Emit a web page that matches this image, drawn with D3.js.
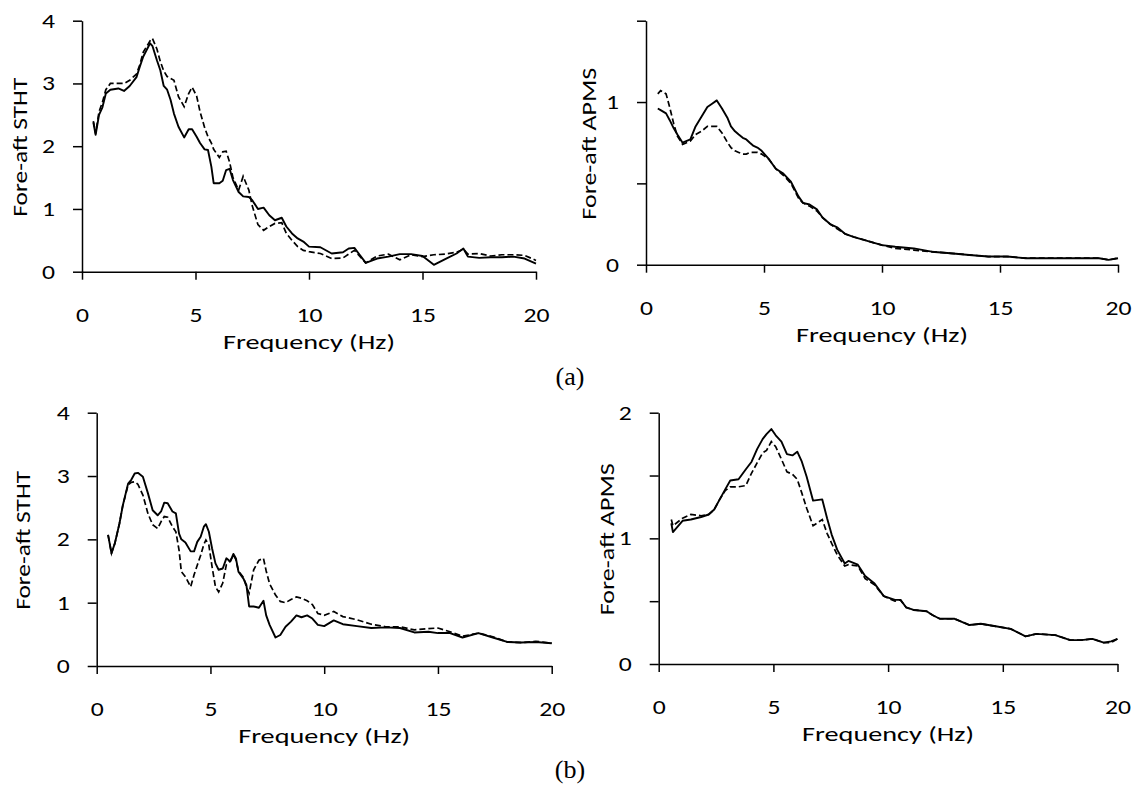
<!DOCTYPE html>
<html>
<head>
<meta charset="utf-8">
<script src="https://cdn.jsdelivr.net/npm/d3@7"></script>
<style>
  body { margin: 0; background: #fff; }
  svg { display: block; }
  .axis path, .axis line { stroke: #000; stroke-width: 1.5; }
</style>
</head>
<body>
<div id="chart"></div>
<script>
const width = 1144;
const height = 787;
const sansFont = "Calibri, Carlito, Lato, sans-serif";
const serifFont = "'Times New Roman', 'Liberation Serif', serif";

// (a) top-left: fore-aft STHT
const freqA = [0.5, 0.6, 0.75, 0.9, 1.05, 1.25, 1.6, 1.85, 2.1, 2.4, 2.55, 2.7, 3.0, 3.1, 3.3, 3.45, 3.6, 3.75, 3.9, 4.05,
    4.25, 4.5, 4.7, 4.85, 5.05, 5.2, 5.4, 5.55, 5.7, 5.8, 6.05, 6.2, 6.35, 6.5, 6.65, 6.9, 7.1, 7.35, 7.5, 7.75,
    8, 8.25, 8.5, 8.8, 9, 9.25, 9.5, 9.75, 10, 10.5, 11, 11.5, 11.75, 12, 12.5, 13, 13.5, 14, 14.5, 15,
    15.5, 16, 16.5, 16.8, 17, 17.5, 18, 18.5, 19, 19.5, 20];
const sthtASolid = [2.38, 2.18, 2.5, 2.62, 2.84, 2.9, 2.92, 2.88, 2.96, 3.1, 3.27, 3.43, 3.64, 3.6, 3.37, 3.21, 2.96, 2.9, 2.74, 2.52,
    2.31, 2.14, 2.27, 2.27, 2.15, 2.05, 1.95, 1.94, 1.67, 1.41, 1.41, 1.45, 1.62, 1.64, 1.46, 1.27, 1.2, 1.19, 1.14, 1.0,
    1.02, 0.9, 0.82, 0.86, 0.72, 0.61, 0.53, 0.48, 0.40, 0.39, 0.29, 0.31, 0.37, 0.38, 0.14, 0.21, 0.24, 0.28, 0.28, 0.25,
    0.11, 0.2, 0.29, 0.37, 0.24, 0.22, 0.23, 0.23, 0.24, 0.21, 0.13];
const sthtADashed = [2.4, 2.2, 2.55, 2.7, 2.9, 3.0, 3.0, 3.0, 3.05, 3.15, 3.3, 3.5, 3.68, 3.72, 3.55, 3.35, 3.2, 3.11, 3.08, 3.05,
    2.79, 2.63, 2.84, 2.94, 2.8, 2.55, 2.3, 2.15, 2.05, 1.95, 1.82, 1.91, 1.92, 1.75, 1.5, 1.3, 1.52, 1.3, 1.05, 0.75,
    0.66, 0.72, 0.77, 0.78, 0.61, 0.5, 0.4, 0.34, 0.32, 0.29, 0.21, 0.22, 0.28, 0.34, 0.14, 0.25, 0.28, 0.19, 0.27, 0.24,
    0.27, 0.28, 0.31, 0.36, 0.28, 0.29, 0.25, 0.27, 0.27, 0.26, 0.18];

// (a) top-right: fore-aft APMS
const freqB = [0.5, 0.62, 0.85, 1.0, 1.17, 1.33, 1.55, 1.88, 2.1, 2.35, 2.6, 2.8, 3.0, 3.22, 3.46, 3.6, 3.77, 3.93, 4.1, 4.25,
    4.4, 4.56, 4.72, 4.9, 5.2, 5.5, 5.82, 6.14, 6.46, 6.65, 6.93, 7.24, 7.48, 7.8, 8.1, 8.43, 8.82, 9.3, 10, 10.56,
    11.35, 12.1, 12.9, 13.7, 14.5, 15.3, 16.1, 16.9, 17.7, 18.45, 19.2, 19.6, 20];
const apmsASolid = [0.96, 0.95, 0.93, 0.89, 0.84, 0.8, 0.75, 0.77, 0.85, 0.91, 0.97, 0.99, 1.01, 0.96, 0.9, 0.85, 0.82, 0.8, 0.78, 0.77,
    0.75, 0.73, 0.72, 0.7, 0.65, 0.59, 0.56, 0.51, 0.42, 0.38, 0.37, 0.34, 0.29, 0.25, 0.23, 0.19, 0.17, 0.15, 0.12, 0.11,
    0.1, 0.08, 0.07, 0.06, 0.05, 0.05, 0.04, 0.04, 0.04, 0.04, 0.04, 0.03, 0.04];
const apmsADashed = [1.05, 1.07, 1.05, 0.97, 0.87, 0.79, 0.74, 0.76, 0.8, 0.82, 0.85, 0.85, 0.85, 0.81, 0.75, 0.72, 0.7, 0.69, 0.68, 0.68,
    0.69, 0.69, 0.69, 0.68, 0.65, 0.59, 0.55, 0.5, 0.41, 0.38, 0.36, 0.33, 0.29, 0.25, 0.22, 0.19, 0.17, 0.15, 0.12, 0.1,
    0.09, 0.08, 0.07, 0.06, 0.05, 0.05, 0.04, 0.04, 0.04, 0.04, 0.04, 0.03, 0.04];

// (b) bottom-left: fore-aft STHT
const freqC = [0.5, 0.65, 0.8, 1.0, 1.15, 1.38, 1.52, 1.67, 1.81, 2.03, 2.25, 2.46, 2.68, 2.83, 2.97, 3.12, 3.33, 3.48, 3.62, 3.72,
    3.9, 4.13, 4.28, 4.42, 4.57, 4.71, 4.8, 4.93, 5.07, 5.22, 5.36, 5.54, 5.7, 5.87, 6.01, 6.12, 6.23, 6.45, 6.58, 6.7,
    6.9, 7.13, 7.33, 7.45, 7.6, 7.86, 8.07, 8.3, 8.54, 8.78, 9.0, 9.25, 9.48, 9.72, 10.0, 10.42, 10.82, 11.44, 12.07, 12.7,
    13.33, 13.96, 14.58, 15.0, 15.53, 16.08, 16.78, 17.41, 18.04, 18.67, 19.3, 20];
const sthtBSolid = [2.07, 1.78, 1.94, 2.25, 2.54, 2.88, 2.94, 3.04, 3.05, 2.99, 2.73, 2.46, 2.38, 2.44, 2.58, 2.57, 2.44, 2.41, 2.09, 2.0,
    1.95, 1.81, 1.81, 1.96, 2.04, 2.2, 2.24, 2.12, 1.86, 1.62, 1.52, 1.54, 1.7, 1.65, 1.77, 1.7, 1.49, 1.38, 1.28, 0.94,
    0.94, 0.92, 1.03, 0.8, 0.65, 0.45, 0.49, 0.62, 0.7, 0.8, 0.77, 0.8, 0.75, 0.65, 0.63, 0.72, 0.66, 0.63, 0.6, 0.61,
    0.6, 0.53, 0.54, 0.52, 0.52, 0.45, 0.52, 0.45, 0.38, 0.37, 0.38, 0.36];
const sthtBDashed = [2.07, 1.78, 1.94, 2.25, 2.54, 2.86, 2.9, 2.91, 2.87, 2.7, 2.41, 2.23, 2.17, 2.28, 2.36, 2.35, 2.2, 2.12, 1.83, 1.49,
    1.41, 1.25, 1.44, 1.59, 1.75, 1.92, 1.99, 1.91, 1.57, 1.25, 1.17, 1.31, 1.6, 1.66, 1.75, 1.68, 1.5, 1.4, 1.25, 1.15,
    1.52, 1.67, 1.7, 1.5, 1.3, 1.12, 1.02, 1.0, 1.05, 1.09, 1.07, 1.03, 0.97, 0.83, 0.8, 0.86, 0.78, 0.73, 0.66, 0.62,
    0.62, 0.57, 0.59, 0.6, 0.54, 0.47, 0.52, 0.46, 0.38, 0.37, 0.39, 0.36];

// (b) bottom-right: fore-aft APMS
const freqD = [0.55, 0.62, 1.04, 1.4, 1.85, 2.18, 2.42, 2.66, 2.9, 3.12, 3.48, 3.8, 4.05, 4.29, 4.53, 4.7, 4.91, 5.1, 5.35, 5.59,
    5.83, 6.04, 6.24, 6.45, 6.73, 7.13, 7.34, 7.54, 7.78, 8.11, 8.27, 8.68, 9.0, 9.41, 9.81, 10.3, 10.54, 10.79, 11.11, 11.68,
    11.93, 12.25, 12.9, 13.55, 14.04, 14.69, 15.34, 15.99, 16.47, 17.29, 17.94, 18.42, 18.91, 19.4, 19.72, 20];
const apmsBSolid = [1.12, 1.05, 1.14, 1.15, 1.17, 1.19, 1.23, 1.31, 1.39, 1.46, 1.47, 1.55, 1.61, 1.71, 1.79, 1.83, 1.87, 1.82, 1.77, 1.67,
    1.66, 1.69, 1.61, 1.49, 1.3, 1.31, 1.16, 1.03, 0.91, 0.8, 0.82, 0.79, 0.7, 0.64, 0.54, 0.51, 0.51, 0.45, 0.43, 0.42,
    0.39, 0.36, 0.36, 0.31, 0.32, 0.3, 0.28, 0.22, 0.24, 0.23, 0.19, 0.19, 0.2, 0.17, 0.18, 0.2];
const apmsBDashed = [1.15, 1.1, 1.16, 1.19, 1.18, 1.19, 1.23, 1.31, 1.38, 1.41, 1.41, 1.42, 1.52, 1.6, 1.68, 1.7, 1.77, 1.73, 1.63, 1.53,
    1.51, 1.47, 1.36, 1.24, 1.1, 1.15, 1.04, 0.96, 0.87, 0.78, 0.79, 0.78, 0.68, 0.63, 0.54, 0.5, 0.51, 0.45, 0.43, 0.42,
    0.39, 0.36, 0.36, 0.31, 0.32, 0.3, 0.28, 0.22, 0.24, 0.23, 0.19, 0.19, 0.2, 0.17, 0.17, 0.2];

const xTicks = [0, 5, 10, 15, 20];
const sthtTicks = [0, 1, 2, 3, 4];
const apmsATicks = [0, 0.5, 1, 1.5];
const apmsBTicks = [0, 0.5, 1, 1.5, 2];
const sthtTitle = "Fore-aft STHT";
const apmsTitle = "Fore-aft APMS";
const xTitle = "Frequency (Hz)";

// text in the source figure is a little wider than Lato at the same height
const tickFontSize = 20;
const tickCharWidth = 13;
const titleFontSize = 21;
const titleWidths = { [sthtTitle]: 139, [apmsTitle]: 152, [xTitle]: 172 };

const panels = [
    { left: 82, right: 536, top: 20.7, bottom: 271.7, yMax: 4, yTicks: sthtTicks, title: sthtTitle,
      titleX: 19, freqY: 341, freq: freqA, solid: sthtASolid, dashed: sthtADashed },
    { left: 646, right: 1118, top: 20.7, bottom: 264.7, yMax: 1.5, yTicks: apmsATicks, title: apmsTitle,
      titleX: 588, freqY: 334, freq: freqB, solid: apmsASolid, dashed: apmsADashed },
    { left: 96.7, right: 551.7, top: 412.7, bottom: 666, yMax: 4, yTicks: sthtTicks, title: sthtTitle,
      titleX: 22, freqY: 735, freq: freqC, solid: sthtBSolid, dashed: sthtBDashed },
    { left: 658.7, right: 1117.5, top: 412.7, bottom: 664, yMax: 2, yTicks: apmsBTicks, title: apmsTitle,
      titleX: 606, freqY: 733, freq: freqD, solid: apmsBSolid, dashed: apmsBDashed }
];

const captions = [
    { text: "(a)", x: 570, y: 377 },
    { text: "(b)", x: 570, y: 770 }
];

const svg = d3.select("#chart")
    .append("svg")
    .attr("width", width)
    .attr("height", height);

const styleTickText = (g) => {
    g.selectAll(".tick text")
        .attr("font-family", sansFont)
        .attr("font-size", tickFontSize)
        .attr("fill", "#000")
        .each(function () {
            const t = d3.select(this);
            const n = t.text().length;
            if (n > 0) t.attr("textLength", n * tickCharWidth).attr("lengthAdjust", "spacingAndGlyphs");
        });
};

const drawPanel = (p) => {
    const xScale = d3.scaleLinear().domain([0, 20]).range([p.left, p.right]);
    const yScale = d3.scaleLinear().domain([0, p.yMax]).range([p.bottom, p.top]);

    svg.append("g")
        .attr("class", "axis")
        .attr("transform", `translate(0, ${p.bottom})`)
        .call(d3.axisBottom(xScale).tickValues(xTicks).tickSize(8).tickSizeOuter(0).tickPadding(28))
        .call(styleTickText);

    svg.append("g")
        .attr("class", "axis")
        .attr("transform", `translate(${p.left}, 0)`)
        .call(d3.axisLeft(yScale)
            .tickValues(p.yTicks)
            .tickSize(9)
            .tickSizeOuter(0)
            .tickPadding(18)
            .tickFormat(d => Number.isInteger(d) ? d : ""))
        .call(styleTickText);

    const line = d3.line()
        .x((d, i) => xScale(p.freq[i]))
        .y(d => yScale(d));

    svg.append("path")
        .datum(p.dashed)
        .attr("fill", "none")
        .attr("stroke", "#000")
        .attr("stroke-width", 1.7)
        .attr("stroke-dasharray", "6,3")
        .attr("d", line);

    svg.append("path")
        .datum(p.solid)
        .attr("fill", "none")
        .attr("stroke", "#000")
        .attr("stroke-width", 1.9)
        .attr("stroke-linejoin", "round")
        .attr("d", line);

    const midY = (p.top + p.bottom) / 2 + 1;
    svg.append("text")
        .attr("transform", `translate(${p.titleX}, ${midY}) rotate(-90)`)
        .attr("font-family", sansFont)
        .attr("font-size", titleFontSize)
        .attr("text-anchor", "middle")
        .attr("dy", "0.36em")
        .attr("textLength", titleWidths[p.title])
        .attr("lengthAdjust", "spacingAndGlyphs")
        .text(p.title);

    svg.append("text")
        .attr("x", (p.left + p.right) / 2)
        .attr("y", p.freqY)
        .attr("font-family", sansFont)
        .attr("font-size", titleFontSize)
        .attr("text-anchor", "middle")
        .attr("dy", "0.36em")
        .attr("textLength", titleWidths[xTitle])
        .attr("lengthAdjust", "spacingAndGlyphs")
        .text(xTitle);
};

panels.forEach(drawPanel);

svg.selectAll(".caption")
    .data(captions)
    .join("text")
    .attr("class", "caption")
    .attr("x", d => d.x)
    .attr("y", d => d.y)
    .attr("font-family", serifFont)
    .attr("font-size", 26)
    .attr("text-anchor", "middle")
    .attr("dy", "0.32em")
    .text(d => d.text);
</script>
</body>
</html>
